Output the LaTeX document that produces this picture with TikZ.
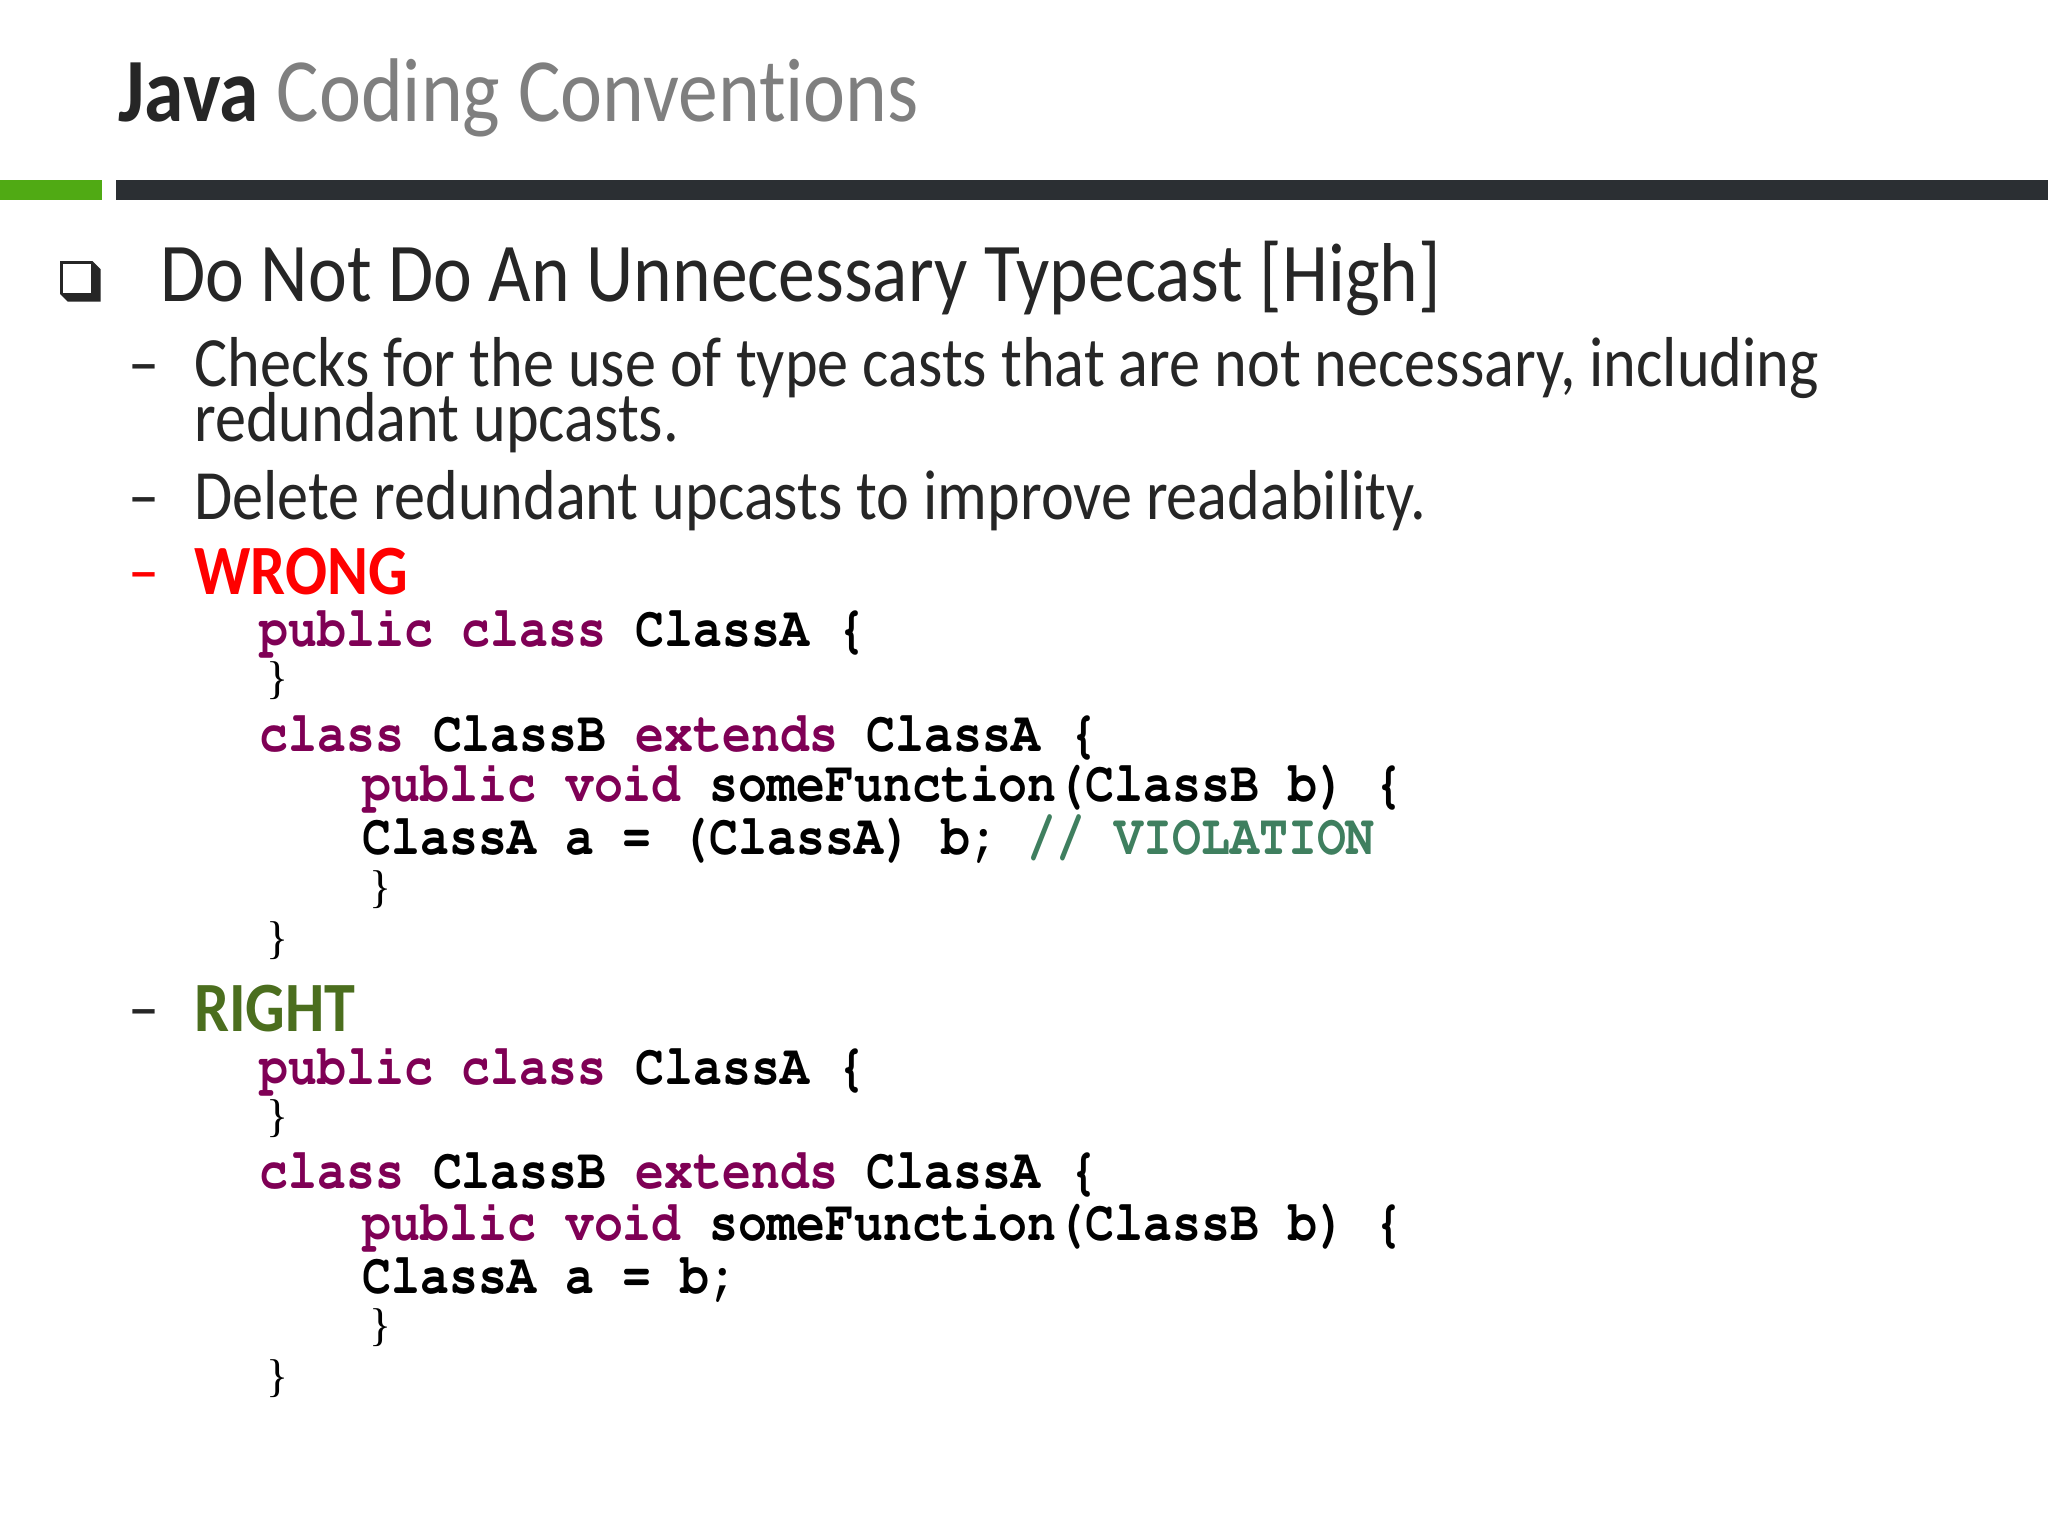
\documentclass[tikz,border=0pt]{standalone}
\usepackage[T1,TU]{fontenc}
\usepackage{fontspec}
\setmainfont{Carlito}[FakeStretch=0.88,Ligatures=NoCommon]
\newfontfamily\bracefont{Liberation Serif}
\newcommand{\codefont}{\fontencoding{T1}\fontfamily{pcr}\fontseries{b}\selectfont}
\newcommand{\tightlines}{\lineskiplimit=-20pt\relax}
\usepackage{graphicx}
\usepackage{xcolor}
\usepackage{tikz}
\definecolor{bodytext}{RGB}{38,38,38}
\definecolor{titlegray}{RGB}{127,127,127}
\definecolor{bargreen}{RGB}{80,170,20}
\definecolor{bardark}{RGB}{43,47,51}
\definecolor{wrongred}{RGB}{255,0,0}
\definecolor{rightgreen}{RGB}{75,110,30}
\definecolor{javakw}{RGB}{127,0,85}
\definecolor{javacomment}{RGB}{63,127,95}
\newcommand{\kw}[1]{\textcolor{javakw}{#1}}
\newcommand{\codeline}[1]{\scalebox{0.84}[1]{#1}}

\begin{document}
\begin{tikzpicture}[x=0.1mm,y=-0.1mm,
  txt/.style={anchor=base west,inner sep=0pt,text=bodytext},
  body/.style={txt,font=\fontsize{15.4}{12}\selectfont\tightlines},
  code/.style={txt,text=black,font=\fontsize{12.5}{14}\codefont},
  brace/.style={txt,text=black,font=\fontsize{10}{12}\bracefont}]
\useasboundingbox[fill=white] (0,0) rectangle (1568,1176);
\node[txt,font=\fontsize{19.7}{22}\selectfont] (title) at (90,93) {\textbf{Java} \textcolor{titlegray}{Coding Conventions}};
\fill[bargreen] (0,138) rectangle (78,153);
\fill[bardark] (89,138) rectangle (1568,153);
\fill[bodytext] (46,200) -- (71,200) -- (77,206) -- (77,231) -- (52,231) -- (46,225) -- cycle;
\fill[white] (48,202) rectangle (70,224);
\node[txt,font=\fontsize{18.2}{22}\selectfont] (head) at (122,231) {Do Not Do An Unnecessary Typecast [High]};
\node[body] (d1) at (98,296) {–};
\node[body,align=left] (checks) at (148,338) {Checks for the use of type casts that are not necessary, including\\redundant upcasts.};
\node[body] (d2) at (98,398) {–};
\node[body] (delete) at (148,398) {Delete redundant upcasts to improve readability.};
\node[body,text=wrongred] (d3) at (98,455) {–};
\node[body,text=wrongred] (wrong) at (148,455) {\textbf{WRONG}};
\node[code] (w1) at (198,495) {\codeline{\kw{public class} ClassA \{}};
\node[brace] (w2) at (203,531) {\}};
\node[code] (w3) at (198,575) {\codeline{\kw{class} ClassB \kw{extends} ClassA \{}};
\node[code] (w4) at (277,614) {\codeline{\kw{public void} someFunction(ClassB b) \{}};
\node[code] (w5) at (277,654) {\codeline{ClassA a = (ClassA) b; \textcolor{javacomment}{// VIOLATION}}};
\node[brace] (w6) at (282,691) {\}};
\node[brace] (w7) at (203,730) {\}};
\node[body] (d4) at (98,790) {–};
\node[body,text=rightgreen] (right) at (148,790) {\textbf{RIGHT}};
\node[code] (r1) at (198,830) {\codeline{\kw{public class} ClassA \{}};
\node[brace] (r2) at (203,866) {\}};
\node[code] (r3) at (198,910) {\codeline{\kw{class} ClassB \kw{extends} ClassA \{}};
\node[code] (r4) at (277,950) {\codeline{\kw{public void} someFunction(ClassB b) \{}};
\node[code] (r5) at (277,990) {\codeline{ClassA a = b;}};
\node[brace] (r6) at (282,1026) {\}};
\node[brace] (r7) at (203,1065) {\}};
\end{tikzpicture}
\end{document}
